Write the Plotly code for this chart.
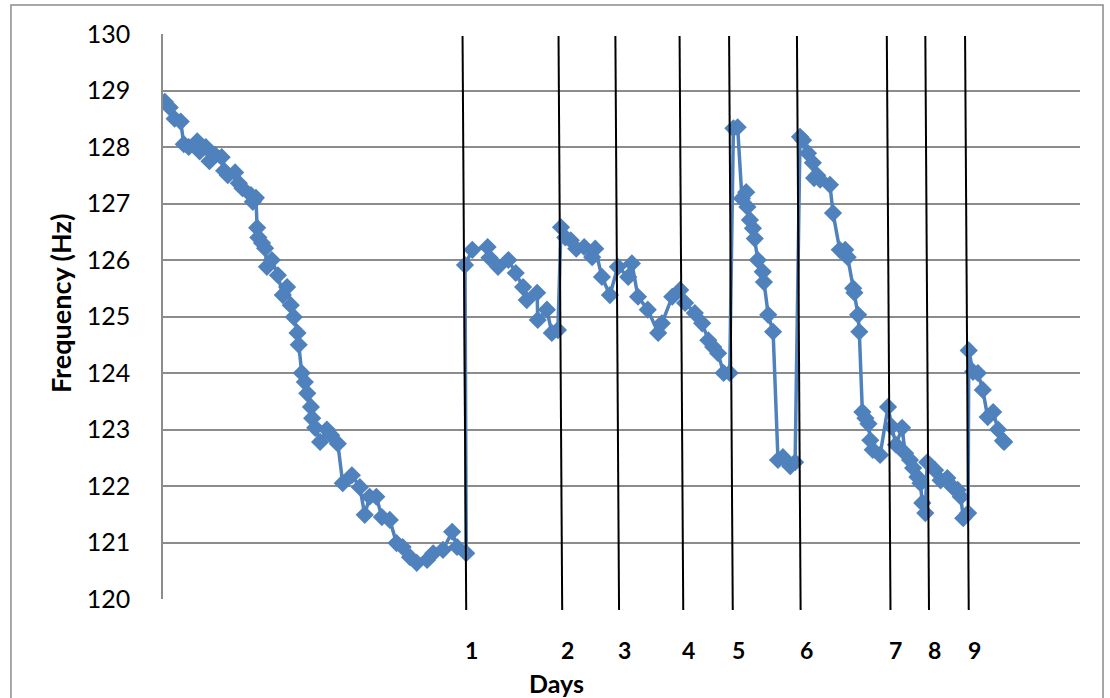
import plotly.graph_objects as go

# ---- data (time index, frequency in Hz) ----
t = [0.3, 1.1, 1.9, 2.9, 3.4, 4.2, 5.6, 6.0, 7.0, 7.6, 8.5, 9.6, 10.0, 10.6, 11.8, 12.4, 13.0,
     14.4, 14.7, 15.2, 15.4, 15.6, 16.2, 16.7, 17.0, 17.8, 18.8, 19.6, 20.3, 20.9, 21.4, 22.0,
     22.2, 22.7, 23.2, 23.6, 24.2, 24.4, 24.9, 25.7, 26.8, 27.5, 28.6, 29.4, 30.9, 32.2, 33.0,
     33.8, 34.9, 35.8, 37.1, 38.2, 39.2, 40.4, 41.5, 43.2, 44.2, 45.8, 47.3, 48.1, 49.6,
     49.4, 50.6, 53.1, 53.4, 54.8, 56.5, 57.7, 58.9, 59.5, 61.2, 61.3, 62.8, 63.6, 64.6,
     65.1, 65.8, 66.7, 67.6, 68.9, 70.2, 70.7, 71.8, 73.1, 74.4, 76.1, 76.7, 77.7, 79.3, 81.0,
     81.6, 83.3, 84.6, 85.4, 87.0, 88.2, 89.2, 90.0, 90.8, 91.7, 92.7,
     93.3, 94.0, 94.7, 95.4, 95.6, 96.0, 96.5, 96.8, 97.3, 98.1, 98.3, 99.0, 99.8,
     100.6, 101.4, 102.6, 103.4,
     104.2, 104.7, 105.5, 106.3, 106.5, 107.0, 107.5, 109.1, 109.6, 110.7, 111.6, 112.0, 112.9,
     113.1, 113.7, 113.9, 114.4, 114.9, 115.4, 115.7, 116.1, 117.3,
     118.6, 119.2, 119.9, 120.9, 121.4, 122.2, 122.7, 123.4, 123.9, 124.2, 124.7,
     125.0, 126.3, 127.2, 128.3, 129.2, 130.0, 130.5, 130.9, 131.7,
     131.8, 132.5, 133.3, 134.1, 134.9, 135.8, 136.6, 137.4, 137.6]
freq = [128.80, 128.70, 128.50, 128.45, 128.05, 128.00, 128.10, 127.92, 128.00, 127.75, 127.86,
        127.82, 127.58, 127.50, 127.55, 127.36, 127.27, 127.15, 127.03, 127.10, 126.57, 126.40,
        126.30, 126.21, 125.88, 126.00, 125.73, 125.38, 125.52, 125.20, 124.99, 124.71, 124.50,
        124.00, 123.84, 123.64, 123.40, 123.20, 123.03, 122.78, 123.00, 122.90, 122.75, 122.05,
        122.19, 121.98, 121.49, 121.81, 121.81, 121.45, 121.40, 120.99, 120.92, 120.74, 120.64,
        120.69, 120.81, 120.87, 121.19, 120.92, 120.81,
        125.91, 126.18, 126.23, 126.04, 125.88, 126.00, 125.77, 125.52, 125.29, 125.42, 124.94,
        125.12, 124.71, 124.76,
        126.58, 126.40, 126.35, 126.20, 126.23, 126.05, 126.20, 125.70, 125.38, 125.88, 125.70,
        125.94, 125.35, 125.12, 124.71, 124.88, 125.35, 125.47, 125.24, 125.06, 124.88, 124.58,
        124.46, 124.35, 124.00, 124.00,
        128.33, 128.35, 127.09, 127.20, 126.94, 126.71, 126.56, 126.38, 126.00, 125.79, 125.61,
        125.03, 124.73,
        122.46, 122.51, 122.35, 122.42,
        128.18, 128.12, 127.89, 127.72, 127.45, 127.50, 127.42, 127.33, 126.83, 126.18, 126.18,
        126.05, 125.50, 125.42, 125.03, 124.73, 123.31, 123.20, 123.10, 122.81, 122.64, 122.55,
        123.40, 123.05, 122.73, 123.03, 122.58, 122.46, 122.32, 122.16, 122.05, 121.70, 121.52,
        122.42, 122.28, 122.10, 122.14, 121.98, 121.93, 121.81, 121.43, 121.52,
        124.40, 124.02, 124.00, 123.70, 123.22, 123.31, 123.00, 122.80, 122.78]

# day boundaries (time index at the bottom of each hand-drawn marker line)
day_t = [49.6, 65.3, 74.6, 85.1, 93.2, 104.3, 119.0, 125.3, 131.8]
day_labels = ["1", "2", "3", "4", "5", "6", "7", "8", "9"]

y_ticks = [120, 121, 122, 123, 124, 125, 126, 127, 128, 129, 130]

BLUE = "#4F81BD"
GRID = "#8C8C8C"
FONT = "Lato, Carlito, 'Open Sans', sans-serif"
LEAN = 0.6  # lean of the hand-drawn day lines (in time units, top vs bottom)

fig = go.Figure()
fig.add_trace(go.Scatter(
    x=t, y=freq, mode="lines+markers",
    line=dict(color=BLUE, width=3.5),
    marker=dict(symbol="diamond", size=14, color=BLUE),
    showlegend=False, hoverinfo="skip"))

shapes = []
annotations = []
for d, lab in zip(day_t, day_labels):
    shapes.append(dict(type="line", xref="x", yref="paper",
                       x0=d, y0=-0.0195, x1=d - LEAN, y1=0.9965,
                       line=dict(color="black", width=2)))
    annotations.append(dict(x=d + 0.9, y=-0.09, xref="x", yref="paper",
                            text="<b>%s</b>" % lab, showarrow=False,
                            font=dict(family=FONT, size=23, color="black"),
                            xanchor="center", yanchor="middle"))

annotations.append(dict(x=0.429, y=-0.148, xref="paper", yref="paper",
                        text="<b>Days</b>", showarrow=False,
                        font=dict(family=FONT, size=25, color="black"),
                        xanchor="center", yanchor="middle"))
annotations.append(dict(x=-0.1123, y=0.522, xref="paper", yref="paper",
                        text="<b>Frequency (Hz)</b>", showarrow=False, textangle=-90,
                        font=dict(family=FONT, size=27, color="black"),
                        xanchor="center", yanchor="middle"))

# outer chart border
shapes.append(dict(type="rect", xref="paper", yref="paper",
                   x0=-0.1658, x1=1.0251, y0=-0.2, y1=1.0513,
                   line=dict(color="#8C8C8C", width=1.5), layer="below"))

fig.update_layout(
    width=1110, height=698,
    margin=dict(l=163, r=30, t=34, b=99),
    paper_bgcolor="white", plot_bgcolor="white",
    shapes=shapes, annotations=annotations,
    font=dict(family=FONT, color="black"),
    xaxis=dict(range=[0, 150], showgrid=False, zeroline=False, showticklabels=False,
               showline=False, ticks=""),
    yaxis=dict(range=[120, 130], tickvals=y_ticks, showgrid=True, gridcolor=GRID, gridwidth=1.5,
               zeroline=False, showline=True, linecolor=GRID, linewidth=1.5,
               ticks="", ticklabelstandoff=26,
               tickfont=dict(family=FONT, size=25, color="black")),
)

fig.write_html("out.html", config={"displayModeBar": False},
               post_script="document.body.style.margin='0';")
